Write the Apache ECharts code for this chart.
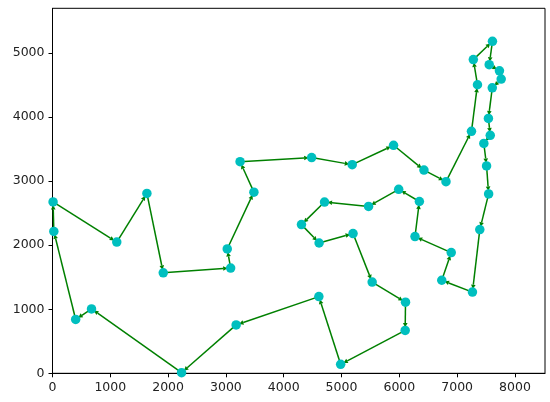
<!DOCTYPE html>
<html>
<head>
<meta charset="utf-8">
<script src="https://cdn.jsdelivr.net/npm/echarts@6/dist/echarts.min.js"></script>
<style>
  html, body { margin: 0; padding: 0; background: #fff; }
  #chart { width: 550px; height: 402px; }
</style>
</head>
<body>
<div id="chart"></div>
<script>
// tour order, as visited (arrow points to the next city)
const tourX = [10, 1112, 1633, 1916, 3082, 3023, 3484, 3245, 4483, 5185, 5900, 6426,
  6807, 7248, 7352, 7280, 7611, 7555, 7732, 7762, 7608, 7541, 7573, 7462,
  7509, 7545, 7392, 7265, 6734, 6898, 6271, 6347, 5989, 5468, 4706, 4307,
  4612, 5199, 5530, 6107, 6101, 4985, 4608, 3177, 2233, 675, 401, 23]
const tourY = [2676, 2049, 2809, 1569, 1644, 1942, 2829, 3305, 3369, 3258, 3561, 3173,
  2993, 3779, 4506, 4899, 5184, 4819, 4723, 4595, 4458, 3981, 3716, 3590,
  3239, 2801, 2244, 1268, 1453, 1885, 2135, 2683, 2873, 2606, 2674, 2322,
  2035, 2182, 1424, 1110, 669, 140, 1198, 756, 10, 1006, 841, 2216]

const xTicks = [0, 1000, 2000, 3000, 4000, 5000, 6000, 7000, 8000]
const yTicks = [0, 1000, 2000, 3000, 4000, 5000]

const points = tourX.map((x, i) => [x, tourY[i]])
// each edge: from x, from y, to x, to y
const edges = points.map((p, i) => {
  const q = points[(i + 1) % points.length]
  return [p[0], p[1], q[0], q[1]]
})

const chart = echarts.init(document.getElementById('chart'))

const axisCommon = (ticks) => ({
  type: 'value',
  axisLine: { show: true, onZero: false, lineStyle: { color: '#000', width: 1 } },
  axisTick: { show: true, length: 4, customValues: ticks, lineStyle: { color: '#000' } },
  axisLabel: {
    customValues: ticks,
    formatter: (v) => String(v),
    color: '#222',
    fontFamily: 'DejaVu Sans',
    fontSize: 12.5
  },
  splitLine: { show: false }
})

// line plus a small head that stops near the edge of the target marker
const renderEdge = (params, api) => {
  const a = api.coord([api.value(0), api.value(1)])
  const b = api.coord([api.value(2), api.value(3)])
  const dx = b[0] - a[0], dy = b[1] - a[1]
  const len = Math.sqrt(dx * dx + dy * dy) || 1
  const ux = dx / len, uy = dy / len
  const gap = 3, headLen = 4.5, headW = 2.3
  const tip = [b[0] - ux * gap, b[1] - uy * gap]
  const base = [tip[0] - ux * headLen, tip[1] - uy * headLen]
  return {
    type: 'group',
    children: [
      {
        type: 'line',
        shape: { x1: a[0], y1: a[1], x2: base[0], y2: base[1] },
        style: { stroke: '#008000', lineWidth: 1.5 }
      },
      {
        type: 'polygon',
        shape: {
          points: [
            tip,
            [base[0] - uy * headW, base[1] + ux * headW],
            [base[0] + uy * headW, base[1] - ux * headW]
          ]
        },
        style: { fill: '#008000' }
      }
    ]
  }
}

chart.setOption({
  animation: false,
  backgroundColor: '#fff',
  grid: {
    left: 52.5, right: 5, top: 8.3, bottom: 28.7,
    show: true, borderColor: '#000', borderWidth: 1
  },
  xAxis: Object.assign(axisCommon(xTicks), { min: 0, max: 8520 }),
  yAxis: Object.assign(axisCommon(yTicks), { min: 0, max: 5700 }),
  series: [
    {
      type: 'custom',
      data: edges,
      z: 1,
      silent: true,
      clip: false,
      encode: { x: [0, 2], y: [1, 3] },
      renderItem: renderEdge
    },
    {
      type: 'scatter',
      data: points,
      z: 3,
      symbol: 'circle',
      symbolSize: 9.5,
      itemStyle: { color: '#00bfbf', opacity: 1 },
      silent: true
    }
  ]
})
</script>
</body>
</html>
